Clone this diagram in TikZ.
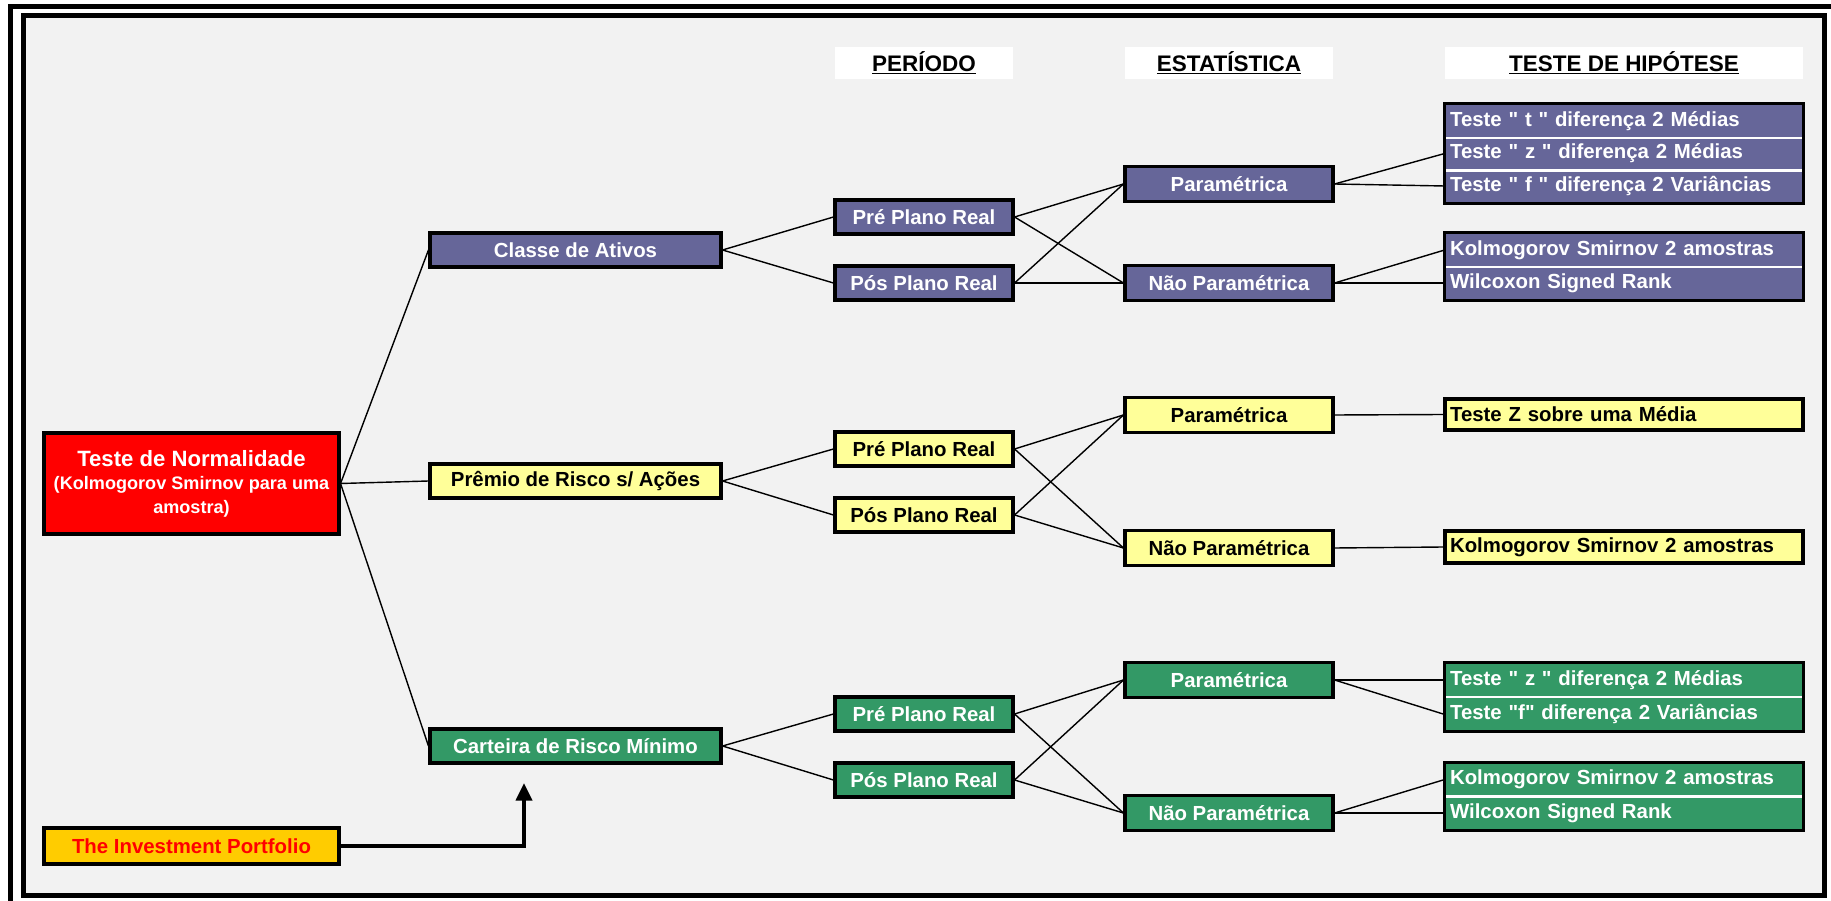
\documentclass[tikz,border=0pt]{standalone}
\usepackage{fontspec}
\setmainfont{Liberation Sans}[Ligatures=TeXOff]
\usetikzlibrary{arrows.meta}

\begin{document}
\begin{tikzpicture}[x=0.02cm, y=-0.02cm,
    every node/.style={font=\bfseries\fontsize{11.6}{13}\selectfont, inner sep=0pt},
    box/.style={draw=black, line width=1.8pt, minimum height=0.68cm},
    catbox/.style={box, minimum width=5.82cm},
    periodbox/.style={box, minimum width=3.56cm},
    statbox/.style={box, minimum width=4.16cm, minimum height=0.70cm},
    hyprow/.style={text width=6.96cm, inner xsep=0.1cm, align=left, minimum height=0.67cm},
    header/.style={fill=white, minimum width=#1, minimum height=0.64cm, font=\bfseries\fontsize{12.8}{14}\selectfont},
    pur/.style={fill=purplebox, text=white},
    yel/.style={fill=yellowbox, text=black},
    grn/.style={fill=greenbox, text=white},
    link/.style={line width=0.8pt},
    sep/.style={white, line width=1.5pt},
    frame/.style={line width=1.8pt}]
    \definecolor{purplebox}{RGB}{102,102,153}
    \definecolor{yellowbox}{RGB}{255,255,153}
    \definecolor{greenbox}{RGB}{51,153,102}
    \definecolor{portbox}{RGB}{255,204,0}
    \useasboundingbox (0,0) rectangle (1831,901);
    % border
    \fill[black!5] (23.5,15.5) rectangle (1824.5,895.5);
    \draw[line width=2.6pt] (23.5,15.5) rectangle (1824.5,895.5);
    \draw[line width=2.3pt] (10.5,901) -- (10.5,6.5) -- (1831,6.5);
    % headers
    \node[header=3.56cm] (hper) at (924,63) {\underline{PERÍODO}};
    \node[header=4.16cm] (hest) at (1229,63) {\underline{ESTATÍSTICA}};
    \node[header=7.16cm] (hhip) at (1624,63) {\underline{TESTE DE HIPÓTESE}};
    % left column
    \node[draw=black, line width=1.8pt, fill=red, text=white, minimum width=5.9cm, minimum height=2.02cm, align=center,
          font=\bfseries\fontsize{10.3}{13.3}\selectfont] (norm) at (191.5,483.5)
          {{\fontsize{12.6}{13.3}\selectfont Teste de Normalidade}\\(Kolmogorov Smirnov para uma\\amostra)};
    \node[box, fill=portbox, text=red, minimum width=5.9cm, minimum height=0.72cm] (port) at (191.5,846) {The Investment Portfolio};
    \coordinate (tip) at (524,783);
    % categories
    \node[catbox, pur] (classe) at (575.5,250) {Classe de Ativos};
    \node[catbox, yel] (premio) at (575.5,481) {Prêmio de Risco s/ Ações};
    \node[catbox, grn] (carteira) at (575.5,746) {Carteira de Risco Mínimo};
    % periods
    \node[periodbox, pur] (aPre) at (924,217) {Pré Plano Real};
    \node[periodbox, pur] (aPos) at (924,283) {Pós Plano Real};
    \node[periodbox, yel] (rPre) at (924,449) {Pré Plano Real};
    \node[periodbox, yel] (rPos) at (924,515) {Pós Plano Real};
    \node[periodbox, grn] (mPre) at (924,714) {Pré Plano Real};
    \node[periodbox, grn] (mPos) at (924,780) {Pós Plano Real};
    % statistics
    \node[statbox, pur] (aPar) at (1229,184) {Paramétrica};
    \node[statbox, pur] (aNao) at (1229,283) {Não Paramétrica};
    \node[statbox, yel] (rPar) at (1229,415) {Paramétrica};
    \node[statbox, yel] (rNao) at (1229,548) {Não Paramétrica};
    \node[statbox, grn] (mPar) at (1229,680) {Paramétrica};
    \node[statbox, grn] (mNao) at (1229,813) {Não Paramétrica};
    % hypothesis tests
    \node[hyprow, pur] (aT) at (1624,121) {Teste " t " diferença 2 Médias};
    \node[hyprow, pur] (aZ) at (1624,153.5) {Teste " z " diferença 2 Médias};
    \node[hyprow, pur] (aF) at (1624,186) {Teste " f " diferença 2 Variâncias};
    \draw[sep] (aT.south west) -- (aT.south east);
    \draw[sep] (aZ.south west) -- (aZ.south east);
    \draw[frame] (aT.north west) rectangle (aF.south east);
    \node[hyprow, pur] (aKS) at (1624,250) {Kolmogorov Smirnov 2 amostras};
    \node[hyprow, pur] (aWil) at (1624,283) {Wilcoxon Signed Rank};
    \draw[sep] (aKS.south west) -- (aKS.south east);
    \draw[frame] (aKS.north west) rectangle (aWil.south east);
    \node[hyprow, yel, box, minimum height=0.62cm] (rZ) at (1624,414.5) {Teste Z sobre uma Média};
    \node[hyprow, yel, box, minimum height=0.64cm] (rKS) at (1624,547) {Kolmogorov Smirnov 2 amostras};
    \node[hyprow, grn] (mZ) at (1624,680) {Teste " z " diferença 2 Médias};
    \node[hyprow, grn] (mF) at (1624,714.5) {Teste "f" diferença 2 Variâncias};
    \draw[sep] (mZ.south west) -- (mZ.south east);
    \draw[frame] (mZ.north west) rectangle (mF.south east);
    \node[hyprow, grn] (mKS) at (1624,779.5) {Kolmogorov Smirnov 2 amostras};
    \node[hyprow, grn] (mWil) at (1624,813) {Wilcoxon Signed Rank};
    \draw[sep] (mKS.south west) -- (mKS.south east);
    \draw[frame] (mKS.north west) rectangle (mWil.south east);
    % links from the normality test
    \draw[link] (norm.east) -- (classe.west);
    \draw[link] (norm.east) -- (premio.west);
    \draw[link] (norm.east) -- (carteira.west);
    \draw[line width=2.3pt, -{Triangle[width=9pt,length=10pt]}] (port.east) -| (tip);
    % links to periods
    \draw[link] (classe.east) -- (aPre.west);
    \draw[link] (classe.east) -- (aPos.west);
    \draw[link] (premio.east) -- (rPre.west);
    \draw[link] (premio.east) -- (rPos.west);
    \draw[link] (carteira.east) -- (mPre.west);
    \draw[link] (carteira.east) -- (mPos.west);
    % links to statistics
    \draw[link] (aPre.east) -- (aPar.west);
    \draw[link] (aPre.east) -- (aNao.west);
    \draw[link] (aPos.east) -- (aPar.west);
    \draw[link] (aPos.east) -- (aNao.west);
    \draw[link] (rPre.east) -- (rPar.west);
    \draw[link] (rPre.east) -- (rNao.west);
    \draw[link] (rPos.east) -- (rPar.west);
    \draw[link] (rPos.east) -- (rNao.west);
    \draw[link] (mPre.east) -- (mPar.west);
    \draw[link] (mPre.east) -- (mNao.west);
    \draw[link] (mPos.east) -- (mPar.west);
    \draw[link] (mPos.east) -- (mNao.west);
    % links to tests
    \draw[link] (aPar.east) -- (aZ.west);
    \draw[link] (aPar.east) -- (aF.west);
    \draw[link] (aNao.east) -- (aKS.west);
    \draw[link] (aNao.east) -- (aWil.west);
    \draw[link] (rPar.east) -- (rZ.west);
    \draw[link] (rNao.east) -- (rKS.west);
    \draw[link] (mPar.east) -- (mZ.west);
    \draw[link] (mPar.east) -- (mF.west);
    \draw[link] (mNao.east) -- (mKS.west);
    \draw[link] (mNao.east) -- (mWil.west);
\end{tikzpicture}
\end{document}
